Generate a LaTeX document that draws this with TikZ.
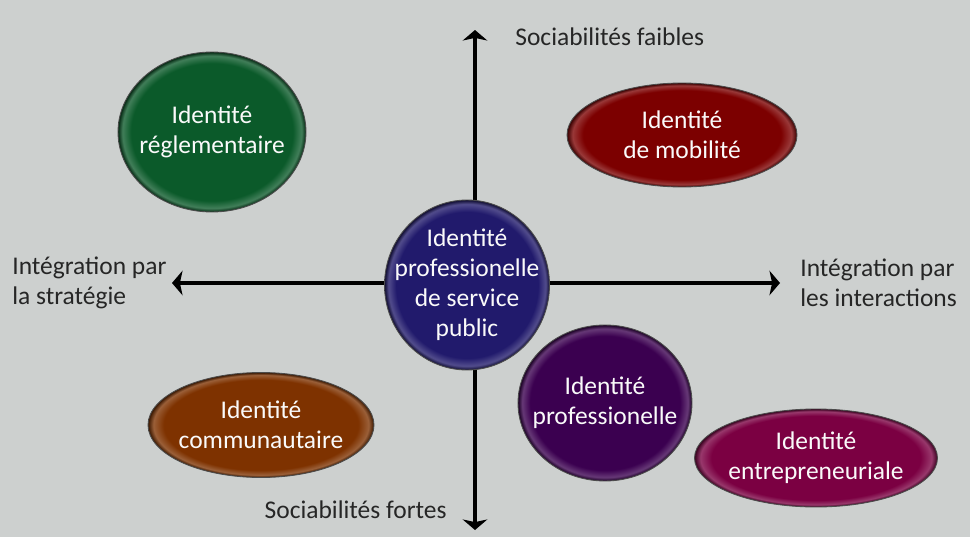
\documentclass[tikz,border=0pt]{standalone}
\usepackage{fontspec}
\setmainfont{Carlito}
\usetikzlibrary{shapes.geometric,arrows.meta}

\definecolor{bgGray}{HTML}{CDD0CF}
\definecolor{idNavy}{HTML}{211A6C}
\definecolor{idGreen}{HTML}{0B5A2A}
\definecolor{idRed}{HTML}{7C0000}
\definecolor{idBrown}{HTML}{7E3200}
\definecolor{idPurple}{HTML}{3B0050}
\definecolor{idMagenta}{HTML}{7B0042}
\colorlet{bevelbase}{idNavy}

% flat fill with a thin light rim and a dark edge
\pgfdeclareradialshading[bevelbase]{bevel}{\pgfpoint{0bp}{0bp}}{%
  color(0bp)=(bevelbase); color(21.5bp)=(bevelbase);
  color(23.8bp)=(bevelbase!78!white); color(25bp)=(bevelbase!45!black);
  color(50bp)=(bevelbase!45!black)}

\newcommand{\diagfont}{\fontsize{14.5}{17}\selectfont}

\begin{document}
\begin{tikzpicture}[
    x=0.02cm, y=-0.02cm,
    bubble/.style={ellipse, draw=black!70, line width=0.5pt, shading=bevel,
                   inner sep=0pt, outer sep=0pt},
    hue/.code={\colorlet{bevelbase}{#1}},
    bubbletext/.style={text=white!96!gray, align=center, inner sep=0pt, font=\diagfont},
    axis/.style={line width=2.3pt,
                 {Stealth[length=6pt,width=14pt,inset=1.5pt]}-{Stealth[length=6pt,width=14pt,inset=1.5pt]}},
    axislabel/.style={font=\diagfont, align=left, inner sep=0pt, text=black!85},
]

% background
\fill[bgGray] (0,0) rectangle (970,537);
\useasboundingbox (0,0) rectangle (970,537);

% axes
\coordinate (top) at (475,30);
\coordinate (bottom) at (475,530);
\coordinate (left) at (172,283);
\coordinate (right) at (780,283);
\draw[axis] (top) -- (bottom);
\draw[axis] (left) -- (right);

% axis labels
\node[axislabel, anchor=west] (weak) at (515,37) {Sociabilités faibles};
\node[axislabel, anchor=east] (strong) at (447,510) {Sociabilités fortes};
\node[axislabel, anchor=west] (strat) at (12,283) {Intégration par\\la stratégie};
\node[axislabel, anchor=west] (inter) at (800,283) {Intégration par\\les interactions};

% identities
\node[bubble, hue=idNavy, minimum width=3.3cm, minimum height=3.4cm]
    (service) at (467,285) {};
\node[bubbletext] at (service) {Identité\\professionelle\\de service\\public};

\node[bubble, hue=idGreen, minimum width=3.76cm, minimum height=3.2cm]
    (regl) at (212,132) {};
\node[bubbletext] at (regl) {Identité\\réglementaire};

\node[bubble, hue=idRed, minimum width=4.6cm, minimum height=2.08cm]
    (mob) at (682,135) {};
\node[bubbletext] at (mob) {Identité\\de mobilité};

\node[bubble, hue=idBrown, minimum width=4.52cm, minimum height=2.1cm]
    (comm) at (261,425) {};
\node[bubbletext] at (comm) {Identité\\communautaire};

\node[bubble, hue=idPurple, minimum width=3.48cm, minimum height=3.12cm]
    (prof) at (605,403) {};
\node[bubbletext] at (prof) {Identité\\professionelle};

\node[bubble, hue=idMagenta, minimum width=4.86cm, minimum height=1.96cm]
    (entr) at (816,458) {};
\node[bubbletext] at (entr) {Identité\\entrepreneuriale};

\end{tikzpicture}
\end{document}
